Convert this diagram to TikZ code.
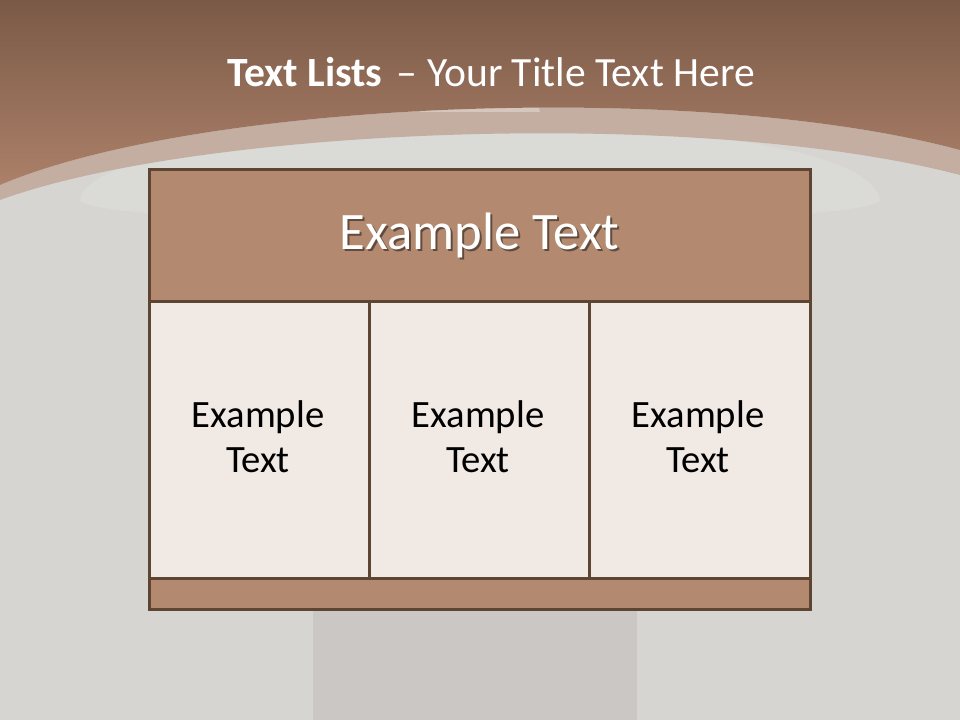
\documentclass[tikz,border=0pt]{standalone}
\usepackage{fontspec}
\setmainfont{Carlito}
\usetikzlibrary{shadings}
\definecolor{bgtop}{HTML}{7A5A47}
\definecolor{bgbot}{HTML}{AC8069}
\definecolor{bandc}{HTML}{C4AEA2}
\definecolor{grayc}{HTML}{D6D5D2}
\definecolor{grayd}{HTML}{CBC7C4}
\definecolor{edgec}{HTML}{5E4433}
\definecolor{headc}{HTML}{B38A70}
\definecolor{cellc}{HTML}{F0E9E4}
\tikzset{
  cellbox/.style={draw=edgec, line width=2pt, fill=cellc},
  brownbox/.style={draw=edgec, line width=2pt, fill=headc},
  celltext/.style={font=\fontsize{29}{33.6}\selectfont, align=center, text=black},
}
\begin{document}
\begin{tikzpicture}[x=0.75pt,y=-0.75pt]
\useasboundingbox (0,0) rectangle (960,720);
% background
\fill[grayc] (0,0) rectangle (960,720);
\fill[grayd] (313,600) rectangle (637,720);
% faint silhouette
\fill[white,opacity=0.12] (80,200) .. controls (90,150) and (300,130) .. (420,125) -- (540,125) .. controls (700,130) and (870,150) .. (880,200) .. controls (870,230) and (90,230) .. cycle;
\fill[bandc] (0,185) .. controls (200,100) and (700,80) .. (960,150) -- (960,175) .. controls (700,107) and (200,127) .. (0,200) -- cycle;
\fill[white,opacity=0.3] (420,112) arc[start angle=180,end angle=360,x radius=60,y radius=22];
\shade[top color=bgtop,bottom color=bgbot] (0,0) -- (960,0) -- (960,150) .. controls (700,80) and (200,100) .. (0,185) -- cycle;
% title
\node[anchor=base, text=white, inner sep=0pt] (title) at (491,87) {\fontsize{31.2}{38}\selectfont\textbf{Text Lists}\hspace{0.35em}– Your Title Text Here};
% table
\node[brownbox, minimum width=661*0.75pt, minimum height=132*0.75pt, anchor=north west, inner sep=0pt] (head) at (148,168) {};
\node[anchor=center, text=black, opacity=0.45] at ([xshift=1.5pt,yshift=-1.5pt]head.center) {\fontsize{39.5}{45}\selectfont Example Text};
\node[anchor=center, text=white] (headtext) at (head.center) {\fontsize{39.5}{45}\selectfont Example Text};
\node[cellbox, minimum width=220*0.75pt, minimum height=277*0.75pt, anchor=north west, inner sep=0pt] (c1) at (148,300) {};
\node[cellbox, minimum width=220*0.75pt, minimum height=277*0.75pt, anchor=north west, inner sep=0pt] (c2) at (368,300) {};
\node[cellbox, minimum width=221*0.75pt, minimum height=277*0.75pt, anchor=north west, inner sep=0pt] (c3) at (588,300) {};
\node[brownbox, minimum width=661*0.75pt, minimum height=31*0.75pt, anchor=north west, inner sep=0pt] (foot) at (148,577) {};
\node[celltext] (t1) at (258,437) {Example\\Text};
\node[celltext] (t2) at (478,437) {Example\\Text};
\node[celltext] (t3) at (698,437) {Example\\Text};
\end{tikzpicture}
\end{document}
